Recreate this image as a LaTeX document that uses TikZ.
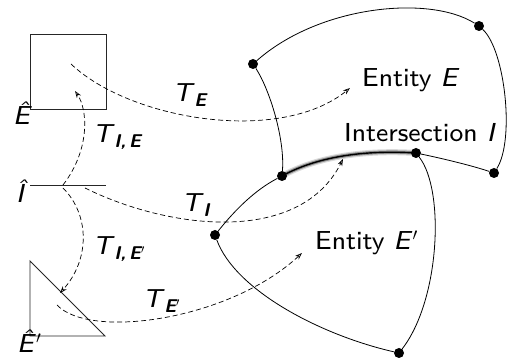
\documentclass[tikz,border=0pt]{standalone}
\usepackage{fontspec}
\setsansfont{lmsans8}[Extension=.otf,UprightFont=*-regular,ItalicFont=*-oblique,BoldFont=lmsans10-bold,BoldItalicFont=lmsans10-boldoblique]
\usetikzlibrary{arrows.meta}
\newcommand\Tl[1]{\textit{T}\kern-0.5pt\raisebox{-5pt}{\fontsize{18.5}{20}\selectfont\bfseries\itshape #1}}
\begin{document}
\begin{tikzpicture}[x=1pt,y=-1pt,
  dot/.style={circle,fill=black,inner sep=0pt,minimum size=10pt},
  edge/.style={line width=0.8pt},
  shp/.style={line width=0.9pt,draw=black!85},
  map/.style={line width=0.7pt,dash pattern=on 5pt off 3pt,-{Stealth[open,length=7pt,width=5pt]}},
  lbl/.style={font=\sffamily\fontsize{26}{30}\selectfont,inner sep=0pt,anchor=base west}]
\useasboundingbox (0,0) rectangle (507,358);

% reference shapes
\draw[shp] (30,34) rectangle (106,109);
\draw[shp] (30,185) -- (106,185);
\draw[shp] (30,261) -- (30,336) -- (105,336) -- cycle;
\node[lbl] (hE) at (13,125) {\textit{\^E}};
\node[lbl] (hI) at (16,203) {\textit{\^I}};
\node[lbl] (hEp) at (17,353) {\textit{\^E}$'$};

% intersection highlight (drawn below the dots)
\coordinate (cF) at (282,176);
\coordinate (cD) at (416,153);
\draw[line width=6pt,black!15] (cF) .. controls (320,155) and (370,150) .. (cD);
\draw[line width=3.5pt,black!45] (cF) .. controls (320,155) and (370,150) .. (cD);
\draw[line width=1.4pt] (cF) .. controls (320,155) and (370,150) .. (cD);

% dots
\node[dot] (A) at (253,64) {};
\node[dot] (B) at (479,26) {};
\node[dot] (C) at (494,173) {};
\node[dot] (D) at (cD) {};
\node[dot] (F) at (cF) {};
\node[dot] (G) at (215,235) {};
\node[dot] (H) at (399,353) {};

% entity boundaries
\draw[edge] (A) .. controls (320,5) and (430,-5) .. (B);
\draw[edge] (B) .. controls (505,50) and (515,140) .. (C);
\draw[edge] (D) .. controls (440,158) and (470,165) .. (C);
\draw[edge] (A) .. controls (270,90) and (285,140) .. (F);
\draw[edge] (F) .. controls (255,190) and (235,210) .. (G);
\draw[edge] (G) .. controls (235,290) and (320,335) .. (H);
\draw[edge] (H) .. controls (440,300) and (445,190) .. (D);

% labels
\node[lbl] (lE) at (362,87) {Entity \textit{E}};
\node[lbl] (lI) at (344,142) {Intersection \textit{I}};
\node[lbl] (lEp) at (315,250) {Entity \textit{E}$'$};

% mapping arrows
\coordinate (sE) at (71,64);
\coordinate (eE) at (350,88);
\coordinate (sIE) at (63,185);
\coordinate (eIE) at (75,91);
\coordinate (sIEp) at (63,188);
\coordinate (eIEp) at (60,293);
\coordinate (sI) at (85,188);
\coordinate (eI) at (343,159);
\coordinate (sEp) at (57,305);
\coordinate (eEp) at (302,253);
\draw[map] (sE) .. controls (130,120) and (280,145) .. (eE);
\draw[map] (sIE) .. controls (90,150) and (88,110) .. (eIE);
\draw[map] (sIEp) .. controls (90,215) and (90,260) .. (eIEp);
\draw[map] (sI) .. controls (170,230) and (300,245) .. (eI);
\draw[map] (sEp) .. controls (90,340) and (230,320) .. (eEp);

\node[lbl] (tE) at (173,102) {\Tl{E}};
\node[lbl] (tIE) at (93,143) {\Tl{I,\,E}};
\node[lbl] (tI) at (182,212) {\Tl{I}};
\node[lbl] (tIEp) at (93,255) {\Tl{I,\,E$'$}};
\node[lbl] (tEp) at (143,308) {\Tl{E$'$}};
\end{tikzpicture}
\end{document}
